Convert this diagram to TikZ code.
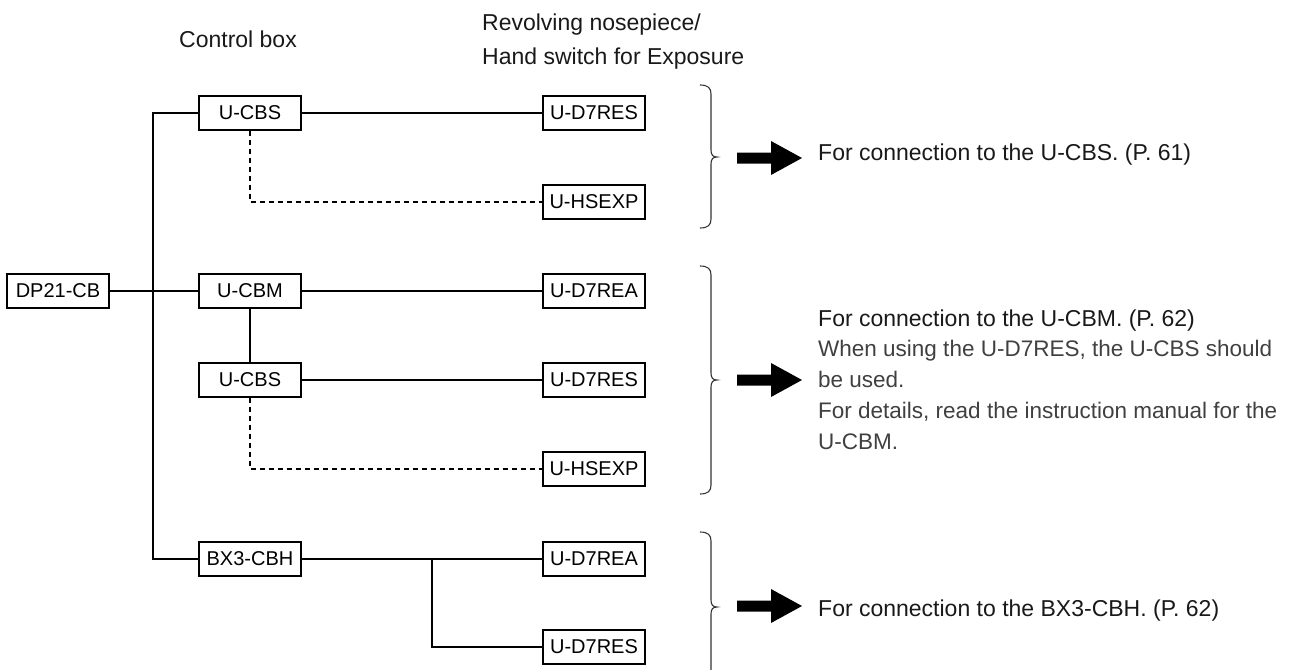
\documentclass[tikz,border=0pt]{standalone}
\usepackage{fontspec}
\setmainfont{Liberation Sans}
\newcommand\mybrace[3]{%
  \draw[brc] (700,#1) .. controls (708,#1) and (711,#1+3) .. (711,#1+9)
    -- (711,#2-7) .. controls (711,#2-2) and (713,#2) .. (717,#2)
    .. controls (713,#2) and (711,#2+2) .. (711,#2+7)
    -- (711,#3-9) .. controls (711,#3-3) and (708,#3) .. (700,#3);}
\newcommand\blockarrow[1]{%
  \fill[black] (737,#1-5.5) -- (771,#1-5.5) -- (771,#1-17) -- (802,#1)
    -- (771,#1+17) -- (771,#1+5.5) -- (737,#1+5.5) -- cycle;}
\begin{document}
\begin{tikzpicture}[x=1pt,y=-1pt,
  cbox/.style={draw, line width=1.2pt, minimum width=102pt, minimum height=34pt,
    inner sep=0pt, font=\fontsize{20}{24}\selectfont},
  conn/.style={line width=1.2pt},
  dconn/.style={line width=1.2pt, dash pattern=on 5pt off 4pt},
  hdr/.style={font=\fontsize{23}{27}\selectfont, inner sep=0pt, text=black!90},
  note/.style={font=\fontsize{23}{27}\selectfont, inner sep=0pt, anchor=base west, text=black!90},
  light/.style={font=\fontsize{22.5}{27}\selectfont, inner sep=0pt, anchor=base west, text=black!75},
  brc/.style={line width=1.1pt, black!80}
]
\useasboundingbox (0,0) rectangle (1292,669);
\clip (0,0) rectangle (1292,669);

% headers
\node[hdr, anchor=base] (hcb) at (238,48) {Control box};
\node[hdr, anchor=base west] (hrn) at (482,31) {Revolving nosepiece/};
\node[hdr, anchor=base west] (hhs) at (482,64) {Hand switch for Exposure};

% boxes
\node[cbox] (dp)   at (58,291)  {DP21-CB};
\node[cbox] (cbs1) at (250,113) {U-CBS};
\node[cbox] (res1) at (594,113) {U-D7RES};
\node[cbox] (hs1)  at (594,202) {U-HSEXP};
\node[cbox] (cbm)  at (250,291) {U-CBM};
\node[cbox] (rea1) at (594,291) {U-D7REA};
\node[cbox] (cbs2) at (250,380) {U-CBS};
\node[cbox] (res2) at (594,380) {U-D7RES};
\node[cbox] (hs2)  at (594,469) {U-HSEXP};
\node[cbox] (bx)   at (250,559) {BX3-CBH};
\node[cbox] (rea2) at (594,559) {U-D7REA};
\node[cbox] (res3) at (594,647) {U-D7RES};

% connectors
\coordinate (t) at (153,291);
\coordinate (br) at (432,559);
\draw[conn] (dp) -- (cbm);
\draw[conn] (cbs1.west) -| (t) |- (bx.west);
\draw[conn] (cbs1) -- (res1);
\draw[dconn] (cbs1.south) |- (hs1.west);
\draw[conn] (cbm) -- (rea1);
\draw[conn] (cbm) -- (cbs2);
\draw[conn] (cbs2) -- (res2);
\draw[dconn] (cbs2.south) |- (hs2.west);
\draw[conn] (bx) -- (rea2);
\draw[conn] (br) |- (res3.west);

% braces and arrows
\mybrace{85}{157}{228}
\mybrace{266}{380}{494}
\mybrace{532}{607}{682}
\blockarrow{158}
\blockarrow{380}
\blockarrow{606}

% notes
\node[note] (n1) at (818,160) {For connection to the U-CBS. (P. 61)};
\node[note] (n2) at (818,326) {For connection to the U-CBM. (P. 62)};
\node[light] (n3) at (818,356) {When using the U-D7RES, the U-CBS should};
\node[light] (n4) at (818,387) {be used.};
\node[light] (n5) at (818,418) {For details, read the instruction manual for the};
\node[light] (n6) at (818,449) {U-CBM.};
\node[note] (n7) at (818,616) {For connection to the BX3-CBH. (P. 62)};
\end{tikzpicture}
\end{document}
